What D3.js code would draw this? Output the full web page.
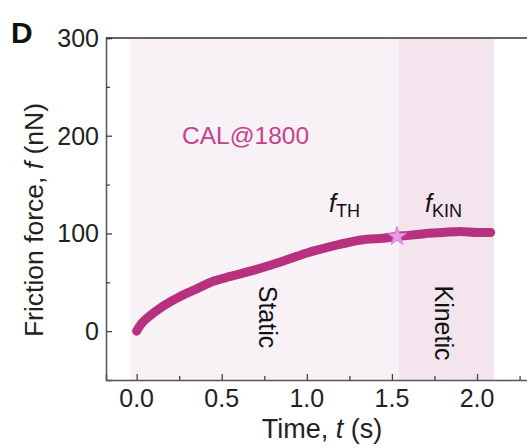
<!DOCTYPE html>
<html>
<head>
<meta charset="utf-8">
<script src="https://cdn.jsdelivr.net/npm/d3@7"></script>
<style>
  body { margin: 0; background: #fff; }
  svg { font-family: "Liberation Sans", Arial, sans-serif; }
</style>
</head>
<body>
<svg id="chart" width="527" height="448"></svg>
<script>
// ---- data ----
const timeS = [0, 0.03, 0.08, 0.15, 0.25, 0.35, 0.45, 0.55, 0.7, 0.85, 1.0, 1.15, 1.25, 1.35, 1.45, 1.53, 1.6, 1.7, 1.8, 1.9, 2.0, 2.08];
const forceNN = [0, 8, 16, 25, 35, 43, 51, 56, 63, 71, 80, 87, 91, 94, 95, 97, 98, 100, 101, 102, 101, 101];
const xTicks = [0, 0.5, 1.0, 1.5, 2.0];
const yTicks = [0, 100, 200, 300];
const staticRange = [-0.035, 1.54];
const kineticRange = [1.54, 2.1];
const thresholdPoint = [1.53, 97];

const svg = d3.select("#chart");
const x = d3.scaleLinear().domain([-0.18, 2.37]).range([106, 540]);
const y = d3.scaleLinear().domain([-50, 300]).range([380, 38]);

// shaded regions
svg.append("rect")
  .attr("x", x(staticRange[0])).attr("y", y(300))
  .attr("width", x(staticRange[1]) - x(staticRange[0]))
  .attr("height", y(-50) - y(300))
  .attr("fill", "#f8f2f7");
svg.append("rect")
  .attr("x", x(kineticRange[0])).attr("y", y(300))
  .attr("width", x(kineticRange[1]) - x(kineticRange[0]))
  .attr("height", y(-50) - y(300))
  .attr("fill", "#f3e4ee");

// axes
const xAxis = svg.append("g")
  .attr("transform", `translate(0,${y(-50)})`)
  .call(d3.axisBottom(x).tickValues(d3.range(0, 2.3, 0.25)).tickSize(-6).tickFormat(""));
const yAxis = svg.append("g")
  .attr("transform", `translate(${x(-0.18)},0)`)
  .call(d3.axisLeft(y).tickValues(d3.range(0, 301, 50)).tickSize(-6).tickFormat(""));
[xAxis, yAxis].forEach(g => {
  g.select(".domain").attr("stroke", "#555").attr("stroke-width", 1.5);
  g.selectAll(".tick line").attr("stroke", "#444").attr("stroke-width", 1.3);
});
xAxis.selectAll(".tick line").filter(d => xTicks.indexOf(d) < 0).attr("y2", -4);
yAxis.selectAll(".tick line").filter(d => yTicks.indexOf(d) < 0).attr("x2", 4);

svg.append("line")
  .attr("x1", x(-0.18)).attr("x2", 527)
  .attr("y1", y(300)).attr("y2", y(300))
  .attr("stroke", "#333").attr("stroke-width", 1.5);

// tick labels
svg.selectAll(".xl").data(xTicks).enter().append("text")
  .attr("x", d => x(d)).attr("y", 407)
  .attr("text-anchor", "middle").attr("font-size", 25).attr("fill", "#222")
  .text(d => d.toFixed(1));
svg.selectAll(".yl").data(yTicks).enter().append("text")
  .attr("x", 99).attr("y", d => y(d) + 9)
  .attr("text-anchor", "end").attr("font-size", 25).attr("fill", "#222")
  .text(d => d);

// axis titles
svg.append("text")
  .attr("x", 322).attr("y", 438)
  .attr("text-anchor", "middle").attr("font-size", 27).attr("fill", "#222")
  .html('Time, <tspan font-style="italic">t</tspan> (s)');
svg.append("text")
  .attr("transform", "translate(43,220) rotate(-90)")
  .attr("text-anchor", "middle").attr("font-size", 26.5).attr("fill", "#222")
  .html('Friction force, <tspan font-style="italic">f</tspan> (nN)');

// curve
const line = d3.line()
  .x((d, i) => x(timeS[i]))
  .y(d => y(d))
  .curve(d3.curveMonotoneX);
svg.append("path")
  .datum(forceNN)
  .attr("d", line)
  .attr("fill", "none")
  .attr("stroke", "#b8317f")
  .attr("stroke-width", 9)
  .attr("stroke-linecap", "round");

// threshold star
svg.append("path")
  .attr("d", d3.symbol().type(d3.symbolStar).size(110))
  .attr("transform", `translate(${x(thresholdPoint[0])},${y(thresholdPoint[1])})`)
  .attr("fill", "#e99be6")
  .attr("stroke", "#d47ee0")
  .attr("stroke-width", 1);

// annotations
svg.append("text")
  .attr("x", 11).attr("y", 43)
  .attr("font-size", 30).attr("font-weight", "bold").attr("fill", "#111")
  .text("D");
svg.append("text")
  .attr("x", 182).attr("y", 144)
  .attr("font-size", 24.5).attr("fill", "#c73f90")
  .text("CAL@1800");
svg.append("text")
  .attr("x", 329).attr("y", 212)
  .attr("font-size", 25).attr("fill", "#111")
  .html('<tspan font-style="italic">f</tspan><tspan font-size="18" dy="5">TH</tspan>');
svg.append("text")
  .attr("x", 425).attr("y", 212)
  .attr("font-size", 25).attr("fill", "#111")
  .html('<tspan font-style="italic">f</tspan><tspan font-size="18" dy="5">KIN</tspan>');
svg.append("text")
  .attr("transform", "translate(259,317) rotate(90)")
  .attr("text-anchor", "middle").attr("font-size", 25).attr("fill", "#111")
  .text("Static");
svg.append("text")
  .attr("transform", "translate(435,323) rotate(90)")
  .attr("text-anchor", "middle").attr("font-size", 25).attr("fill", "#111")
  .text("Kinetic");
</script>
</body>
</html>
